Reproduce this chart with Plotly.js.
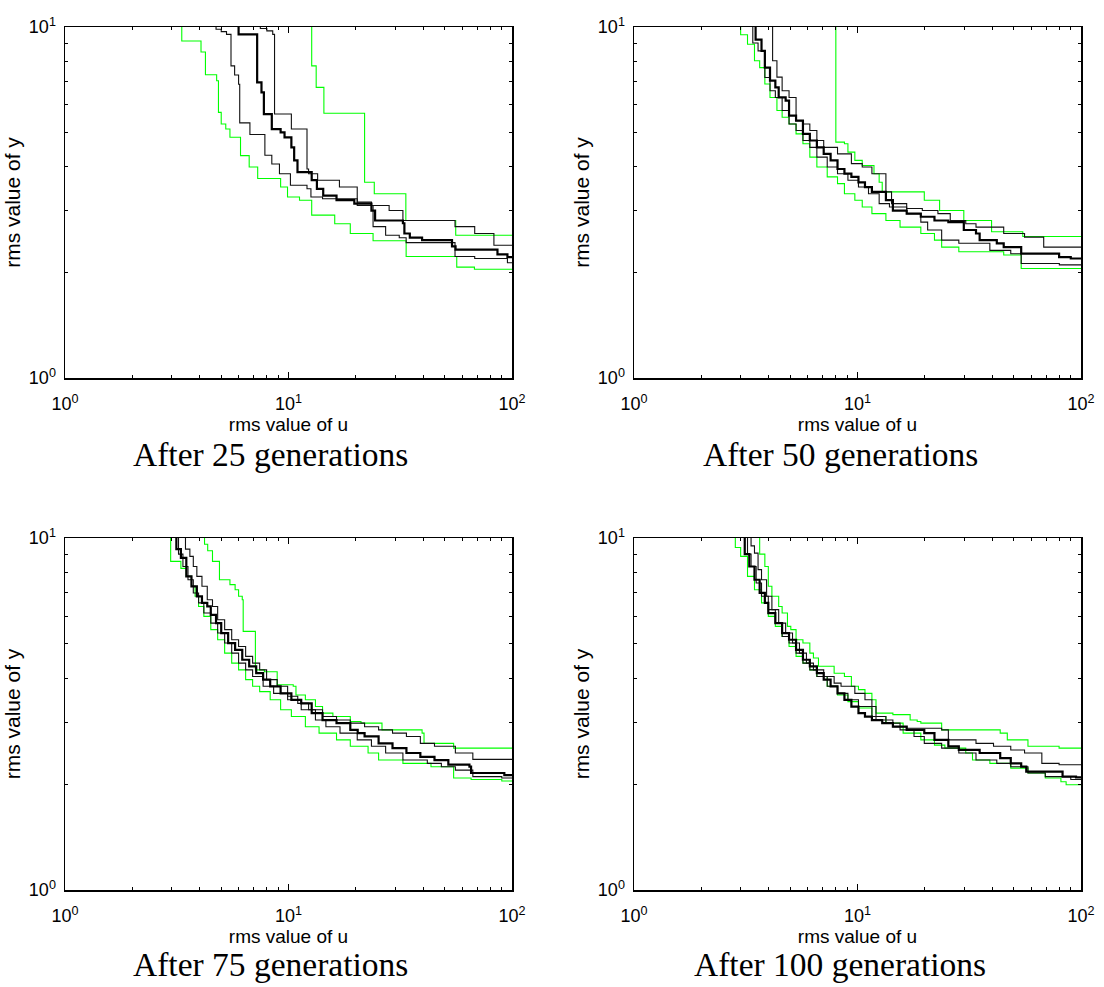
<!DOCTYPE html>
<html>
<head>
<meta charset="utf-8">
<script src="https://cdn.plot.ly/plotly-3.0.1.min.js"></script>
<style>html,body{margin:0;padding:0;background:#fff;}#chart{width:1104px;height:987px;}</style>
</head>
<body>
<div id="chart"></div>
<script>
// ---------- tick labels ----------
const MAJOR_TICKS_X = [1, 10, 100];
const MAJOR_TEXT_X = ['10<sup>0</sup>', '10<sup>1</sup>', '10<sup>2</sup>'];
const MINOR_TICKS_X = [2,3,4,5,6,7,8,9,20,30,40,50,60,70,80,90];
const MAJOR_TICKS_Y = [1, 10];
const MAJOR_TEXT_Y = ['10<sup>0</sup>', '10<sup>1</sup>'];
const MINOR_TICKS_Y = [2,3,4,5,6,7,8,9];
const PANEL_TITLES = ['After 25 generations', 'After 50 generations', 'After 75 generations', 'After 100 generations'];

// ---------- After 25 generations ----------
const g25_lowU = [3.33,3.33,4.06,4.25,4.77,4.86,5.0,5.24,5.47,6.1,6.67,7.28,9.22,9.9,11.2,12.7,16.1,18.9,23.9,33.6,56.6,67.9,100];
const g25_lowY = [10,9.12,8.49,7.31,7.03,5.71,5.29,5.12,4.85,4.30,3.99,3.70,3.50,3.28,3.21,2.91,2.75,2.58,2.46,2.22,2.07,2.04,2.04];
const g25_upU = [12.7,12.7,13.3,14.4,21.9,24.2,33.5,56.0,100];
const g25_upY = [10,7.75,6.73,5.68,3.61,3.35,2.81,2.55,2.55];
const g25_medU = [5.98,5.98,7.24,7.57,7.76,8.42,9.22,9.6,10.3,10.6,10.97,12.7,13.4,14.3,16.4,19.7,23.5,24.4,32.5,33.0,34.9,39.6,53.9,55.9,86.1,95.4,100];
const g25_medY = [10,9.53,6.95,6.51,5.65,5.12,5.01,4.85,4.54,4.17,3.86,3.66,3.46,3.31,3.21,3.14,3.0,2.81,2.76,2.58,2.51,2.47,2.37,2.32,2.25,2.21,2.21];
const g25_aU = [4.74,4.74,5.0,5.28,5.53,5.74,5.98,6.05,6.72,7.84,8.42,9.11,10.2,12.1,12.6,14.2,20.3,23.9,27.2,31.3,33.6,55.6,68.1,95.4,100];
const g25_aY = [10,9.85,9.7,9.53,7.75,7.3,6.87,5.33,4.94,4.31,4.07,3.82,3.54,3.46,3.28,3.24,3.10,2.70,2.55,2.51,2.43,2.22,2.19,2.13,2.13];
const g25_bU = [7.48,7.48,8.0,8.5,8.66,10.3,12.1,12.3,13.5,16.9,20.3,23.5,28.2,32.5,55.6,68.1,83.0,100];
const g25_bY = [10,9.9,9.75,9.53,5.65,5.12,3.94,3.82,3.66,3.50,3.17,3.10,3.0,2.81,2.70,2.58,2.39,2.39];

// ---------- After 50 generations ----------
const g50_lowU = [3.0,3.0,3.22,3.46,3.65,3.85,4.06,4.36,4.60,4.94,5.31,5.70,6.12,6.58,7.32,8.14,8.74,9.73,10.5,11.6,13.4,15.5,19.2,22.1,23.8,28.4,45.1,54.0,100];
const g50_lowY = [10,9.5,8.93,8.01,7.66,6.88,6.30,5.78,5.53,5.29,4.96,4.65,4.26,3.99,3.74,3.58,3.35,3.21,3.07,2.94,2.81,2.69,2.58,2.47,2.36,2.29,2.24,2.05,2.05];
const g50_upU = [8.0,8.0,8.74,9.06,9.73,10.5,11.85,12.5,12.9,19.9,23.3,29.9,39.8,54.9,100];
const g50_upY = [10,4.70,4.65,4.40,4.17,4.03,3.82,3.61,3.39,3.21,3.0,2.81,2.61,2.53,2.53];
const g50_medU = [3.50,3.50,3.72,3.85,4.06,4.29,4.44,4.77,4.94,5.31,5.70,6.12,6.58,7.06,7.58,8.14,8.74,9.39,10.1,10.8,11.6,13.4,14.4,16.6,19.2,22.1,25.5,29.9,33.9,35.2,42.0,45.1,54.0,79.8,90,100];
const g50_medY = [10,9.2,8.55,7.66,7.03,6.73,6.30,6.17,5.59,5.41,4.96,4.75,4.54,4.35,4.17,3.94,3.82,3.74,3.61,3.50,3.39,3.21,3.0,2.94,2.88,2.81,2.78,2.64,2.58,2.47,2.42,2.36,2.26,2.21,2.19,2.19];
const g50_aU = [4.17,4.17,4.36,4.60,4.94,5.31,5.70,6.12,6.58,7.06,8.14,9.39,10.5,11.6,13.4,14.2,16.6,19.5,22.9,26.0,30.5,33.9,45.1,55.9,68.1,100];
const g50_aY = [10,8.01,7.2,6.58,6.30,5.41,5.29,5.07,4.75,4.54,4.35,4.08,3.99,3.82,3.39,3.14,3.04,3.0,2.94,2.81,2.75,2.69,2.58,2.52,2.36,2.36];
const g50_bU = [3.40,3.40,3.59,3.85,4.06,4.29,4.60,4.94,5.31,5.70,6.12,6.58,7.32,8.14,9.06,10.1,11.2,12.5,13.9,16.6,19.2,20.6,23.8,28.4,39.1,48.5,54.0,80,100];
const g50_bY = [10,9.0,8.55,7.18,6.58,6.30,5.78,5.29,5.07,4.75,4.54,4.26,3.99,3.82,3.66,3.50,3.35,3.14,3.07,2.94,2.78,2.64,2.47,2.42,2.31,2.26,2.12,2.10,2.10];

// ---------- After 75 generations ----------
const g75_lowU = [2.97,2.97,3.30,3.49,3.68,3.82,3.96,4.18,4.49,4.82,5.18,5.57,5.98,6.43,6.91,7.43,8.28,9.22,10.3,11.9,13.7,16.4,18.9,22.7,25.3,32.5,43.4,54.8,65.6,90,100];
const g75_lowY = [10,8.58,8.2,7.78,7.29,6.83,6.39,5.99,5.49,5.14,4.71,4.41,4.22,3.96,3.79,3.66,3.47,3.25,3.11,2.91,2.79,2.67,2.56,2.45,2.34,2.29,2.24,2.08,2.06,2.04,2.04];
const g75_upU = [4.21,4.21,4.35,4.57,4.91,5.47,5.77,5.98,6.21,6.27,7.11,7.8,8.90,10.5,10.8,11.9,13.2,14.2,15.8,18.9,21.1,26.2,39.6,40.4,54.8,100];
const g75_upY = [10,9.6,9.2,8.58,7.61,7.37,7.13,6.83,6.68,5.43,4.22,4.17,3.83,3.79,3.58,3.47,3.32,3.18,3.11,3.01,2.98,2.85,2.79,2.61,2.53,2.53];
const g75_medU = [3.15,3.15,3.30,3.49,3.68,3.89,4.10,4.33,4.49,4.74,5.0,5.37,5.77,6.21,6.67,7.17,7.70,8.28,9.22,10.3,11.4,12.7,14.2,16.4,18.9,20.4,21.9,25.3,29.2,33.7,38.9,45.0,51.9,64.5,65.6,92.4,100];
const g75_medY = [10,9.3,8.78,7.78,7.29,6.83,6.54,6.39,6.05,5.73,5.37,5.03,4.81,4.51,4.32,4.13,3.96,3.79,3.62,3.47,3.39,3.18,3.04,2.98,2.85,2.79,2.73,2.61,2.53,2.45,2.39,2.34,2.27,2.24,2.15,2.12,2.11];
const g75_aU = [3.46,3.46,3.62,3.75,3.89,4.10,4.33,4.57,4.82,5.18,5.57,5.98,6.43,6.91,7.43,7.98,8.90,9.91,11.0,12.3,14.2,16.4,18.9,21.9,25.3,29.2,33.7,38.9,45.0,55.8,66.8,100];
const g75_aY = [10,9.3,8.87,8.30,7.78,7.29,6.68,6.39,5.86,5.49,5.14,4.92,4.61,4.41,4.22,3.96,3.79,3.55,3.39,3.25,3.11,3.04,2.98,2.91,2.85,2.79,2.73,2.61,2.56,2.45,2.35,2.35];
const g75_bU = [3.22,3.22,3.37,3.55,3.75,3.96,4.18,4.49,4.82,5.18,5.57,5.98,6.43,6.91,7.70,8.58,9.91,11.4,13.2,14.7,17.0,20.3,23.5,27.2,32.5,41.8,48.3,55.8,66.8,90,100];
const g75_bY = [10,9.0,8.30,7.61,6.98,6.54,6.12,5.73,5.37,5.03,4.71,4.41,4.22,4.04,3.79,3.62,3.47,3.25,3.04,2.91,2.79,2.67,2.56,2.45,2.34,2.29,2.24,2.19,2.10,2.08,2.08];

// ---------- After 100 generations ----------
const g100_lowU = [2.84,2.84,3.0,3.22,3.46,3.72,3.99,4.29,4.60,4.94,5.31,5.70,6.12,6.58,7.32,8.14,9.06,10.1,11.6,13.4,16.0,19.2,22.1,24.6,30.5,32.7,39.1,48.5,57.9,69.2,81.3,85.8,100];
const g100_lowY = [10,9.4,8.87,7.78,7.13,6.54,5.99,5.61,5.25,4.92,4.61,4.41,4.22,4.04,3.79,3.58,3.43,3.29,3.11,2.98,2.79,2.67,2.58,2.53,2.45,2.34,2.29,2.22,2.15,2.08,2.03,1.99,1.99];
const g100_upU = [3.65,3.65,3.85,3.99,4.14,4.44,4.60,4.86,5.03,5.31,5.70,6.12,6.35,6.69,7.86,8.74,9.39,10.1,10.8,11.6,12.1,14.4,17.2,18.5,19.2,23.8,43.5,46.8,57.9,79.8,100];
const g100_upY = [10,9.0,8.30,7.29,6.83,6.39,6.12,5.61,5.49,5.14,5.03,4.71,4.56,4.32,4.13,4.04,3.79,3.71,3.62,3.47,3.18,3.15,3.04,3.01,2.98,2.85,2.79,2.67,2.56,2.53,2.53];
const g100_medU = [3.13,3.13,3.28,3.46,3.65,3.85,3.99,4.29,4.60,4.94,5.31,5.70,6.12,6.58,7.06,7.58,8.14,8.74,9.39,10.1,10.8,11.6,12.9,14.4,16.6,19.9,22.1,25.5,28.4,35.2,43.5,48.5,54.0,56.9,82.7,95,100];
const g100_medY = [10,9.0,8.30,7.61,6.98,6.54,6.12,5.73,5.37,5.14,4.81,4.51,4.32,4.13,3.96,3.79,3.62,3.47,3.32,3.18,3.11,3.04,2.98,2.91,2.85,2.79,2.67,2.56,2.50,2.45,2.37,2.29,2.24,2.17,2.10,2.09,2.09];
const g100_aU = [3.34,3.34,3.46,3.59,3.72,3.92,4.14,4.44,4.77,5.12,5.50,5.91,6.35,7.06,7.86,8.44,9.73,10.8,11.6,12.1,14.4,16.6,23.8,25.5,33.9,40.6,48.5,55.9,66.8,79.8,100];
const g100_aY = [10,9.5,9.06,8.13,7.61,6.83,6.26,5.73,5.37,5.03,4.71,4.41,4.22,4.04,3.87,3.79,3.62,3.47,3.32,3.04,2.91,2.88,2.85,2.67,2.61,2.56,2.50,2.45,2.29,2.27,2.26];
const g100_bU = [3.22,3.22,3.34,3.52,3.72,3.99,4.29,4.60,4.94,5.31,5.70,6.12,6.58,7.32,8.14,9.06,10.1,11.6,13.4,15.5,17.9,19.9,23.8,28.4,33.9,42.0,48.5,57.9,69.2,90,100];
const g100_bY = [10,9.0,8.30,7.45,6.83,6.26,5.73,5.25,5.03,4.71,4.41,4.22,4.04,3.79,3.62,3.47,3.32,3.11,2.98,2.85,2.73,2.61,2.53,2.45,2.34,2.29,2.24,2.15,2.10,2.06,2.06];

const panels = [
  {low:[g25_lowU,g25_lowY], up:[g25_upU,g25_upY], a:[g25_aU,g25_aY], b:[g25_bU,g25_bY], med:[g25_medU,g25_medY]},
  {low:[g50_lowU,g50_lowY], up:[g50_upU,g50_upY], a:[g50_aU,g50_aY], b:[g50_bU,g50_bY], med:[g50_medU,g50_medY]},
  {low:[g75_lowU,g75_lowY], up:[g75_upU,g75_upY], a:[g75_aU,g75_aY], b:[g75_bU,g75_bY], med:[g75_medU,g75_medY]},
  {low:[g100_lowU,g100_lowY], up:[g100_upU,g100_upY], a:[g100_aU,g100_aY], b:[g100_bU,g100_bY], med:[g100_medU,g100_medY]}
];

const W = 1104, H = 987;
const boxes = [[65,512,27,378],[634,1081,27,378],[65,512,538,890],[634,1081,538,890]];
const captionX = [270, 840, 270, 840];
const captionBase = [466, 466, 976, 976];

const GREEN = '#00ff00';
const sansFont = 'Liberation Sans, Arial, Helvetica, sans-serif';
const traces = [];
const layout = {
  width: W, height: H,
  margin: {l:0, r:0, t:0, b:0},
  paper_bgcolor: '#ffffff', plot_bgcolor: '#ffffff',
  showlegend: false,
  annotations: []
};

panels.forEach((p, i) => {
  const n = i + 1;
  const sfx = n === 1 ? '' : String(n);
  const xa = 'x' + sfx, ya = 'y' + sfx;
  const add = (d, color, width) => traces.push({
    x: d[0], y: d[1], xaxis: xa, yaxis: ya, type: 'scatter', mode: 'lines',
    line: {shape: 'hv', color: color, width: width}, hoverinfo: 'skip'
  });
  add(p.low, GREEN, 1.1);
  add(p.up, GREEN, 1.1);
  add(p.a, '#111111', 1.1);
  add(p.b, '#111111', 1.1);
  add(p.med, '#000000', 2.2);

  const b = boxes[i];
  const common = {
    type: 'log', showline: true, linecolor: '#000', linewidth: 1.5, mirror: 'allticks',
    ticks: 'inside', ticklen: 6, tickwidth: 1, tickcolor: '#000',
    showgrid: false, zeroline: false, fixedrange: true, tickmode: 'array',
    tickfont: {family: sansFont, size: 18, color: '#000'}
  };
  layout['xaxis' + sfx] = Object.assign({}, common, {
    domain: [b[0] / W, b[1] / W], anchor: ya, range: [0, 2],
    tickvals: MAJOR_TICKS_X, ticktext: MAJOR_TEXT_X,
    minor: {ticks: 'inside', ticklen: 3, tickwidth: 1, tickcolor: '#000', tickvals: MINOR_TICKS_X},
    ticklabelstandoff: 9,
    title: {text: 'rms value of u', font: {family: sansFont, size: 19, color: '#000'}, standoff: 0}
  });
  layout['yaxis' + sfx] = Object.assign({}, common, {
    domain: [1 - b[3] / H, 1 - b[2] / H], anchor: xa, range: [0, 1],
    tickvals: MAJOR_TICKS_Y, ticktext: MAJOR_TEXT_Y,
    minor: {ticks: 'inside', ticklen: 3, tickwidth: 1, tickcolor: '#000', tickvals: MINOR_TICKS_Y},
    ticklabelstandoff: 4,
    title: {text: 'rms value of y', font: {family: sansFont, size: 21, color: '#000'}, standoff: 2}
  });
  layout.annotations.push({
    text: PANEL_TITLES[i], xref: 'paper', yref: 'paper',
    x: captionX[i] / W, y: 1 - (captionBase[i] + 9) / H,
    xanchor: 'center', yanchor: 'bottom', showarrow: false,
    font: {family: 'Liberation Serif, Times New Roman, serif', size: 33.5, color: '#000'}
  });
});

Plotly.newPlot('chart', traces, layout, {staticPlot: true, displayModeBar: false});
</script>
</body>
</html>
